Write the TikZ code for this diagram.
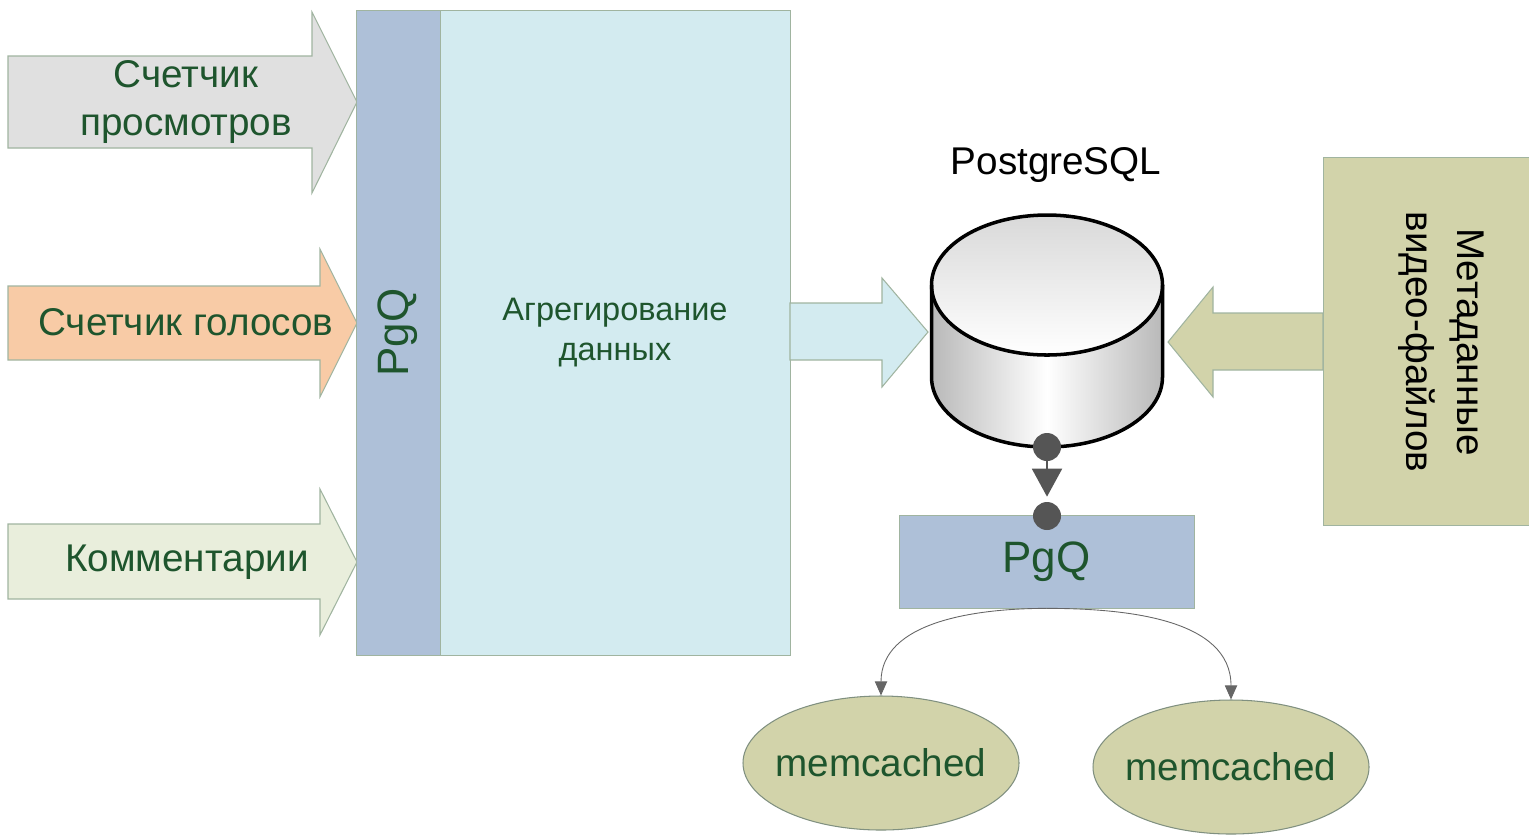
\documentclass[tikz,border=0pt]{standalone}
\usepackage{fontspec}
\setmainfont{Liberation Sans}
\usetikzlibrary{positioning,arrows,arrows.meta,shapes.geometric}

\definecolor{pgqblue}{RGB}{174,192,216}
\definecolor{aggblue}{RGB}{211,235,240}
\definecolor{olive}{RGB}{210,211,170}
\definecolor{peach}{RGB}{248,203,166}
\definecolor{lightgray}{RGB}{224,224,224}
\definecolor{palegreen}{RGB}{233,238,220}
\definecolor{txtgreen}{RGB}{30,85,45}
\definecolor{edgegray}{RGB}{160,180,160}
\definecolor{conngray}{RGB}{85,85,85}

\begin{document}
\begin{tikzpicture}[
    lbl/.style={text=txtgreen, font=\fontsize{22}{27}\selectfont, align=center},
    bigarrow/.style={draw=edgegray, line width=0.6pt},
    dot/.style={circle, fill=conngray, minimum size=0.56cm, inner sep=0pt},
    cachenode/.style={ellipse, draw=edgegray!80!black, fill=olive, line width=0.6pt,
      minimum width=5.52cm, minimum height=2.68cm, inner sep=0pt, text=txtgreen,
      font=\fontsize{22}{26}\selectfont}]
          \useasboundingbox (0,0) rectangle (30.58,-16.70);

          % incoming streams
          \draw[bigarrow, fill=lightgray] (0.16,-1.12) -- (6.24,-1.12) -- (6.24,-0.24)
          -- (7.14,-2.04) -- (6.24,-3.86) -- (6.24,-2.96) -- (0.16,-2.96) -- cycle;

          \draw[bigarrow, fill=peach] (0.16,-5.72) -- (6.40,-5.72) -- (6.40,-4.98)
          -- (7.14,-6.46) -- (6.40,-7.94) -- (6.40,-7.20) -- (0.16,-7.20) -- cycle;

          \draw[bigarrow, fill=palegreen] (0.16,-10.48) -- (6.40,-10.48) -- (6.40,-9.78)
          -- (7.14,-11.24) -- (6.40,-12.70) -- (6.40,-11.98) -- (0.16,-11.98) -- cycle;

          \draw (3.72,-2.04) node[lbl] (views) {Счетчик\\просмотров};

          \draw (3.72,-6.44) node[lbl] (votes) {Счетчик голосов};

          \draw (3.74,-11.24) node[lbl] (comments) {Комментарии};

          % aggregation block
          \draw (7.96,-6.65) node[rotate=90, fill=pgqblue, draw=edgegray,
          minimum width=12.9cm, minimum height=1.68cm, inner sep=0pt,
          text=txtgreen, font=\fontsize{25}{30}\selectfont] (pgqin) {PgQ};

          \draw (12.30,-6.65) node[fill=aggblue, draw=edgegray,
          minimum width=7cm, minimum height=12.9cm, inner sep=0pt, text=txtgreen,
          align=center, font=\fontsize{18.5}{23}\selectfont] (agg)
          {Агрегирование\\данных};

          \draw[bigarrow, fill=aggblue] (15.80,-6.06) -- (17.64,-6.06) -- (17.64,-5.56)
          -- (18.56,-6.64) -- (17.64,-7.74) -- (17.64,-7.20) -- (15.80,-7.20) -- cycle;

          % metadata
          \draw (28.52,-6.82) node[fill=olive, draw=edgegray,
          minimum width=4.12cm, minimum height=7.36cm, inner sep=0pt] (meta) {};

          \draw (28.82,-6.84) node[rotate=-90, align=center,
          font=\fontsize{22}{29}\selectfont] (metatext) {Метаданные\\видео-файлов};

          \draw[bigarrow, fill=olive] (26.46,-6.26) -- (24.26,-6.26) -- (24.26,-5.74)
          -- (23.36,-6.84) -- (24.26,-7.94) -- (24.26,-7.40) -- (26.46,-7.40) -- cycle;

          % database
          \shade[left color=gray!55, right color=gray!55, middle color=white]
          (18.63,-5.70) -- (18.63,-7.54)
          arc[start angle=180, end angle=360, x radius=2.31, y radius=1.40]
          -- (23.25,-5.70)
          arc[start angle=0, end angle=-180, x radius=2.31, y radius=1.40] -- cycle;
          \shade[top color=gray!30, bottom color=white]
          (20.94,-5.70) ellipse [x radius=2.31, y radius=1.40];
          \draw[line width=2pt] (18.63,-5.70) -- (18.63,-7.54)
          arc[start angle=180, end angle=360, x radius=2.31, y radius=1.40]
          -- (23.25,-5.70);
          \draw[line width=2pt] (20.94,-5.70) ellipse [x radius=2.31, y radius=1.40];

          \draw (21.12,-3.30) node[font=\fontsize{22}{26}\selectfont] (dbname) {PostgreSQL};

          % outgoing queue
          \draw (20.93,-11.23) node[fill=pgqblue, draw=edgegray,
          minimum width=5.90cm, minimum height=1.86cm, inner sep=0pt,
          text=txtgreen, font=\fontsize{25}{30}\selectfont] (pgqout) {PgQ};

          \draw (20.94,-8.94) node[dot] (d1) {};

          \draw (20.94,-10.32) node[dot] (d2) {};

          \draw[draw=conngray, line width=1.2pt, shorten >=0.1cm,
          -{Triangle[length=0.56cm,width=0.6cm]}] (d1) -- (d2);

          % caches
          \draw (17.62,-15.26) node[cachenode] (mc1) {\makebox[0pt]{memcached}};

          \draw (24.62,-15.34) node[cachenode] (mc2) {\makebox[0pt]{memcached}};

          \draw[line width=0.5pt, draw=black!60, -{Triangle[length=8pt,width=7pt]}]
          (pgqout.south) to[out=180, in=90] (mc1.north);

          \draw[line width=0.5pt, draw=black!60, -{Triangle[length=8pt,width=7pt]}]
          (pgqout.south) to[out=0, in=90] (mc2.north);
        \end{tikzpicture}
\end{document}
